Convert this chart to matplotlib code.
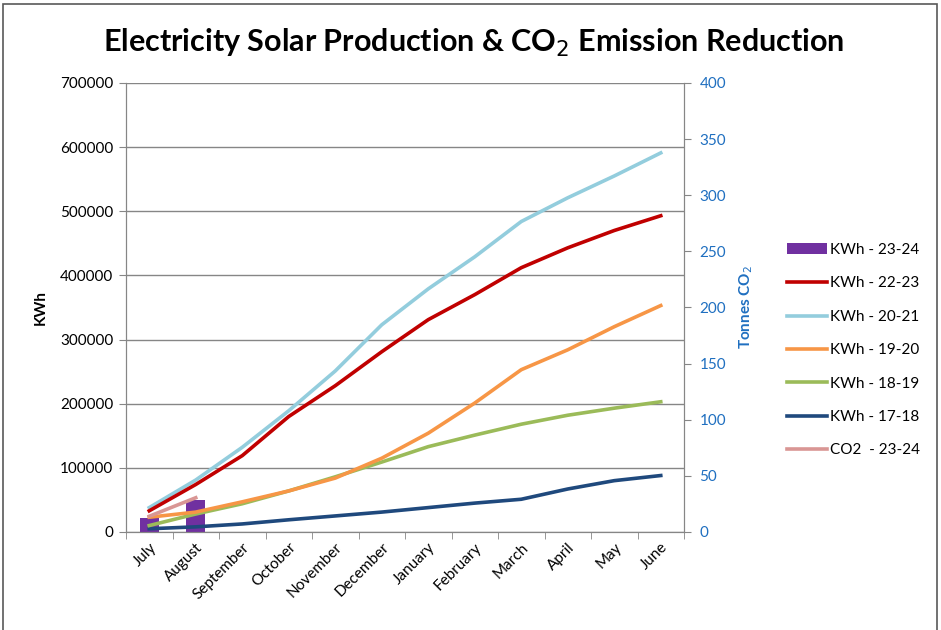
import matplotlib.pyplot as plt
from matplotlib.patches import Rectangle
import numpy as np

plt.rcParams['font.family'] = ['Lato', 'DejaVu Sans']

months = ['July', 'August', 'September', 'October', 'November', 'December',
          'January', 'February', 'March', 'April', 'May', 'June']

# cumulative kWh per financial year
kwh_23_24 = [22000, 50000]
kwh_22_23 = [33000, 74000, 119000, 180000, 228000, 281000, 331000, 370000, 412000, 443000, 470000, 493000]
kwh_20_21 = [38000, 81000, 132000, 189000, 251000, 323000, 379000, 429000, 484000, 521000, 555000, 591000]
kwh_19_20 = [23000, 31000, 47000, 64000, 84000, 115000, 154000, 201000, 253000, 284000, 320000, 353000]
kwh_18_19 = [10000, 28000, 44000, 64000, 86000, 109000, 133000, 151000, 168000, 182000, 193000, 203000]
kwh_17_18 = [5000, 8000, 12500, 19000, 25000, 31000, 38000, 45000, 51000, 67000, 80000, 88000]
co2_23_24 = [14, 30.5]

x = np.arange(len(months))

fig = plt.figure(figsize=(9.41, 6.30), dpi=100)
ax = fig.add_axes([0.1339, 0.1556, 0.593, 0.7127])
ax2 = ax.twinx()

bars = ax.bar(x[:len(kwh_23_24)], kwh_23_24, width=0.4, color='#7030A0', zorder=2,
              label='KWh - 23-24')
lw = 2.6
l1, = ax.plot(x, kwh_17_18, color='#1F497D', lw=lw, label='KWh - 17-18', zorder=3)
l2, = ax.plot(x, kwh_18_19, color='#9BBB59', lw=lw, label='KWh - 18-19', zorder=3)
l3, = ax.plot(x, kwh_19_20, color='#F79646', lw=lw, label='KWh - 19-20', zorder=3)
l4, = ax.plot(x, kwh_20_21, color='#93CDDD', lw=lw, label='KWh - 20-21', zorder=3)
l5, = ax.plot(x, kwh_22_23, color='#C00000', lw=lw, label='KWh - 22-23', zorder=3)
l6, = ax2.plot(x[:len(co2_23_24)], co2_23_24, color='#D99694', lw=lw, label='CO2  - 23-24')

ax.set_xlim(-0.5, len(months) - 0.5)
ax.set_ylim(0, 700000)
ax.set_yticks(np.arange(0, 700001, 100000))
ax2.set_ylim(0, 400)
ax2.set_yticks(np.arange(0, 401, 50))

ax.grid(axis='y', color='#868686', lw=1)
ax.set_axisbelow(True)

ax.set_xticks(x)
ax.set_xticklabels(months, rotation=45, ha='right', rotation_mode='anchor', fontsize=11)
ax.set_xticks(np.arange(-0.5, len(months)), minor=True)
ax.tick_params(axis='x', which='major', length=0, pad=6)
ax.tick_params(axis='x', which='minor', length=5, color='#868686', direction='out')
ax.tick_params(axis='y', length=5, color='#868686', labelsize=11, pad=4)
ax2.tick_params(axis='y', length=5, color='#868686', labelsize=11, labelcolor='#1F6FC0', pad=6)

for a in (ax, ax2):
    a.spines['top'].set_visible(False)
    for s in ('left', 'right', 'bottom'):
        a.spines[s].set_color('#868686')

ax.set_ylabel('KWh', fontsize=11, fontweight='bold', labelpad=9)
ax2.set_ylabel('Tonnes CO$_2$', fontsize=11, fontweight='bold', color='#1F6FC0', labelpad=8)

fig.text(0.503, 0.932, 'Electricity Solar Production & CO$_2$ Emission Reduction',
         ha='center', va='center', fontsize=22, fontweight='bold')

handles = [bars, l5, l4, l3, l2, l1, l6]
fig.legend(handles=handles, labels=[h.get_label() for h in handles],
           loc='upper left', bbox_to_anchor=(0.822, 0.636), frameon=False,
           fontsize=11, handlelength=2.6, labelspacing=1.27, handletextpad=0.2)

fig.patches.append(Rectangle((0.003, -0.1), 0.993, 1.094, transform=fig.transFigure,
                             fill=False, edgecolor='#595959', lw=1.2))

fig.savefig('out.png', dpi=100)
